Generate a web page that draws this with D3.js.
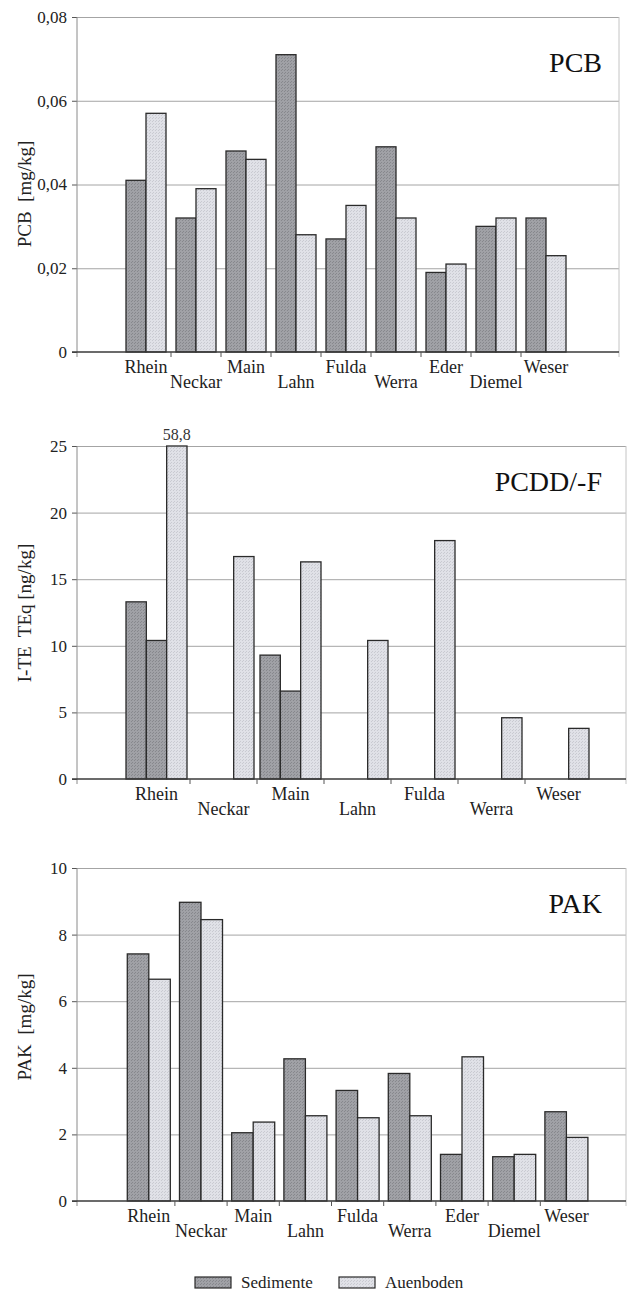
<!DOCTYPE html>
<html>
<head>
<meta charset="utf-8">
<script src="https://cdn.jsdelivr.net/npm/d3@7"></script>
<style>
  body { margin: 0; background: #fff; }
  svg text { font-family: 'Liberation Serif', 'DejaVu Serif', serif; }
</style>
</head>
<body>
<svg id="chart" width="627" height="1293"></svg>
<script>
// --- data ---
const pcbRivers = ['Rhein', 'Neckar', 'Main', 'Lahn', 'Fulda', 'Werra', 'Eder', 'Diemel', 'Weser'];
const pcbSedimente = [0.041, 0.032, 0.048, 0.071, 0.027, 0.049, 0.019, 0.030, 0.032];
const pcbAuenboden = [0.057, 0.039, 0.046, 0.028, 0.035, 0.032, 0.021, 0.032, 0.023];

const pcddRivers = ['Rhein', 'Neckar', 'Main', 'Lahn', 'Fulda', 'Werra', 'Weser'];
const pcddSedimente1 = [13.3, null, 9.3, null, null, null, null];
const pcddSedimente2 = [10.4, null, 6.6, null, null, null, null];
const pcddAuenboden = [58.8, 16.7, 16.3, 10.4, 17.9, 4.6, 3.8];

const pakRivers = ['Rhein', 'Neckar', 'Main', 'Lahn', 'Fulda', 'Werra', 'Eder', 'Diemel', 'Weser'];
const pakSedimente = [7.42, 8.97, 2.05, 4.27, 3.32, 3.83, 1.40, 1.33, 2.68];
const pakAuenboden = [6.66, 8.45, 2.37, 2.56, 2.50, 2.56, 4.33, 1.40, 1.91];

const legendLabels = ['Sedimente', 'Auenboden'];

const SERIF = "'Liberation Serif', 'DejaVu Serif', serif";
const de = d3.formatLocale({ decimal: ',', thousands: '.', grouping: [3], currency: ['', ' €'] });

const svg = d3.select('#chart');
const defs = svg.append('defs');

// halftone-ish fills like the print
function makePattern(id, base, dot) {
  const p = defs.append('pattern')
    .attr('id', id)
    .attr('patternUnits', 'userSpaceOnUse')
    .attr('width', 3)
    .attr('height', 3);
  p.append('rect').attr('width', 3).attr('height', 3).attr('fill', base);
  p.append('rect').attr('x', 0).attr('y', 0).attr('width', 1).attr('height', 1).attr('fill', dot);
  p.append('rect').attr('x', 2).attr('y', 1).attr('width', 1).attr('height', 1).attr('fill', dot);
}
makePattern('pat-sed', '#a0a1a6', '#87888d');
makePattern('pat-auen', '#e0e1e7', '#c9cad1');

const fillFor = { sed: 'url(#pat-sed)', auen: 'url(#pat-auen)' };

function drawPanel({
  rivers, series, x0, x1, yTop, yZero, yMax, tickStep, fmt,
  bandRange, padInner, title, titleY, yLabel, yLabelY,
}) {
  const g = svg.append('g').attr('font-family', SERIF);

  const y = d3.scaleLinear().domain([0, yMax]).range([yZero, yTop]);
  const x = d3.scaleBand().domain(rivers).range(bandRange)
    .paddingInner(padInner).paddingOuter(padInner / 2);
  const xs = d3.scaleBand().domain(series.map((s) => s.key)).range([0, x.bandwidth()]);
  const ticks = d3.range(0, yMax + tickStep / 2, tickStep);

  // grid
  g.append('g')
    .attr('transform', `translate(${x0},0)`)
    .call(d3.axisLeft(y).tickValues(ticks.slice(1)).tickSize(-(x1 - x0)).tickFormat(''))
    .call((a) => a.select('.domain').remove())
    .call((a) => a.selectAll('.tick line').attr('stroke', '#a4a4a4').attr('stroke-width', 1));

  // right border
  g.append('line')
    .attr('x1', x1).attr('x2', x1).attr('y1', yTop).attr('y2', yZero + 5)
    .attr('stroke', '#c4c4c4');

  // y axis with labels
  g.append('g')
    .attr('transform', `translate(${x0},0)`)
    .call(d3.axisLeft(y).tickValues(ticks).tickSize(5).tickPadding(5).tickFormat(fmt))
    .attr('font-family', SERIF)
    .attr('font-size', 17)
    .call((a) => a.select('.domain').remove())
    .call((a) => a.selectAll('.tick line').attr('stroke', '#555'))
    .call((a) => a.selectAll('.tick text').attr('fill', '#222'));

  g.append('line')
    .attr('x1', x0).attr('x2', x0).attr('y1', yTop).attr('y2', yZero + 5)
    .attr('stroke', '#8a8a8a');

  // bars
  series.forEach((s) => {
    const rows = rivers.map((r, i) => ({ river: r, v: s.values[i] })).filter((d) => d.v != null);
    g.append('g').selectAll('rect')
      .data(rows)
      .join('rect')
      .attr('x', (d) => x(d.river) + xs(s.key))
      .attr('width', xs.bandwidth())
      .attr('y', (d) => y(Math.min(d.v, yMax)))
      .attr('height', (d) => yZero - y(Math.min(d.v, yMax)))
      .attr('fill', fillFor[s.kind])
      .attr('stroke', '#2a2a2a')
      .attr('stroke-width', 1.3);

    // values off the scale get printed on top
    g.append('g').selectAll('text')
      .data(rows.filter((d) => d.v > yMax))
      .join('text')
      .attr('x', (d) => x(d.river) + xs(s.key) + xs.bandwidth() / 2)
      .attr('y', yTop - 6)
      .attr('text-anchor', 'middle')
      .attr('fill', '#333')
      .attr('font-family', SERIF)
      .attr('font-size', 16)
      .text((d) => de.format('.1f')(d.v));
  });

  // x axis
  g.append('line')
    .attr('x1', x0 - 5).attr('x2', x1).attr('y1', yZero).attr('y2', yZero)
    .attr('stroke', '#3a3a3a').attr('stroke-width', 1.6);

  const gap = x.step() * x.paddingInner();
  g.append('g').selectAll('line')
    .data(rivers.slice(1))
    .join('line')
    .attr('x1', (d) => x(d) - gap / 2)
    .attr('x2', (d) => x(d) - gap / 2)
    .attr('y1', yZero)
    .attr('y2', yZero + 5)
    .attr('stroke', '#555');

  g.append('g').selectAll('text')
    .data(rivers)
    .join('text')
    .attr('x', (d) => x(d) + x.bandwidth() / 2)
    .attr('y', (d, i) => yZero + (i % 2 === 0 ? 21 : 36))
    .attr('text-anchor', 'middle')
    .attr('fill', '#222')
    .attr('font-family', SERIF)
    .attr('font-size', 18)
    .text((d) => d);

  // titles
  g.append('text')
    .attr('x', 602)
    .attr('y', titleY)
    .attr('text-anchor', 'end')
    .attr('fill', '#111')
    .attr('font-family', SERIF)
    .attr('font-size', 28)
    .text(title);

  g.append('text')
    .attr('transform', `translate(24,${yLabelY}) rotate(-90)`)
    .attr('text-anchor', 'middle')
    .attr('dominant-baseline', 'central')
    .attr('fill', '#222')
    .attr('font-family', SERIF)
    .attr('font-size', 19)
    .text(yLabel);
}

drawPanel({
  rivers: pcbRivers,
  series: [
    { key: 's', values: pcbSedimente, kind: 'sed' },
    { key: 'a', values: pcbAuenboden, kind: 'auen' },
  ],
  x0: 77, x1: 619, yTop: 17, yZero: 352, yMax: 0.08, tickStep: 0.02,
  fmt: (d) => (d === 0 ? '0' : de.format('.2f')(d)),
  bandRange: [121, 571], padInner: 0.2,
  title: 'PCB', titleY: 72, yLabel: 'PCB\u00a0 [mg/kg]', yLabelY: 194,
});

drawPanel({
  rivers: pcddRivers,
  series: [
    { key: 's1', values: pcddSedimente1, kind: 'sed' },
    { key: 's2', values: pcddSedimente2, kind: 'sed' },
    { key: 'a', values: pcddAuenboden, kind: 'auen' },
  ],
  x0: 77, x1: 626, yTop: 446, yZero: 779, yMax: 25, tickStep: 5,
  fmt: de.format('d'),
  bandRange: [123, 592], padInner: 6 / 67,
  title: 'PCDD/-F', titleY: 491, yLabel: 'I-TE\u00a0 TEq [ng/kg]', yLabelY: 613,
});

drawPanel({
  rivers: pakRivers,
  series: [
    { key: 's', values: pakSedimente, kind: 'sed' },
    { key: 'a', values: pakAuenboden, kind: 'auen' },
  ],
  x0: 77, x1: 626, yTop: 868, yZero: 1201, yMax: 10, tickStep: 2,
  fmt: de.format('d'),
  bandRange: [122.7, 592.5], padInner: 0.176,
  title: 'PAK', titleY: 913, yLabel: 'PAK\u00a0 [mg/kg]', yLabelY: 1027,
});

// legend
const legend = svg.append('g').attr('transform', 'translate(195,1277)');
const legendX = d3.scaleOrdinal().domain(legendLabels).range([0, 144]);
const legendKind = d3.scaleOrdinal().domain(legendLabels).range(['sed', 'auen']);
const item = legend.selectAll('g')
  .data(legendLabels)
  .join('g')
  .attr('transform', (d) => `translate(${legendX(d)},0)`);
item.append('rect')
  .attr('width', 36).attr('height', 11)
  .attr('fill', (d) => fillFor[legendKind(d)])
  .attr('stroke', '#2a2a2a').attr('stroke-width', 1.2);
item.append('text')
  .attr('x', 46).attr('y', 11)
  .attr('fill', '#222')
  .attr('font-family', SERIF)
  .attr('font-size', 17)
  .text((d) => d);
</script>
</body>
</html>
